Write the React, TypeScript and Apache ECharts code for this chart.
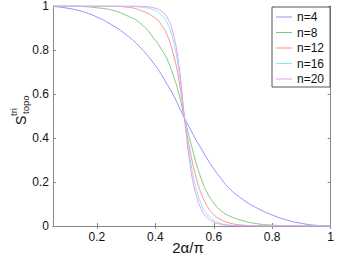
import React, { useEffect, useRef } from "react";
import * as echarts from "echarts";

const X = [0.05, 0.1, 0.15, 0.2, 0.25, 0.3, 0.35, 0.4, 0.42, 0.44, 0.46, 0.48, 0.5, 0.52, 0.54, 0.56, 0.58, 0.6, 0.62, 0.65, 0.7, 0.75, 0.8, 0.85, 0.9, 0.95, 1.0];
const n4 = [0.998, 0.99, 0.975, 0.95, 0.915, 0.87, 0.81, 0.73, 0.69, 0.645, 0.6, 0.545, 0.49, 0.44, 0.39, 0.345, 0.3, 0.26, 0.225, 0.175, 0.12, 0.08, 0.05, 0.027, 0.012, 0.003, 0];
const n8 = [1, 1, 0.998, 0.992, 0.982, 0.958, 0.92, 0.845, 0.805, 0.76, 0.69, 0.605, 0.49, 0.385, 0.285, 0.205, 0.145, 0.105, 0.075, 0.048, 0.024, 0.01, 0.004, 0.001, 0, 0, 0];
const n12 = [1, 1, 1, 1, 0.999, 0.995, 0.98, 0.945, 0.915, 0.87, 0.79, 0.67, 0.49, 0.335, 0.22, 0.138, 0.085, 0.052, 0.032, 0.015, 0.004, 0.001, 0, 0, 0, 0, 0];
const n16 = [1, 1, 1, 1, 1, 0.999, 0.995, 0.98, 0.96, 0.925, 0.85, 0.71, 0.49, 0.3, 0.17, 0.092, 0.05, 0.026, 0.013, 0.005, 0.001, 0, 0, 0, 0, 0, 0];
const n20 = [1, 1, 1, 1, 1, 1, 0.999, 0.99, 0.977, 0.95, 0.88, 0.74, 0.49, 0.27, 0.14, 0.07, 0.035, 0.018, 0.009, 0.003, 0.0005, 0, 0, 0, 0, 0, 0];

const seriesNames = ["n=4", "n=8", "n=12", "n=16", "n=20"];
const seriesValues = [n4, n8, n12, n16, n20];
const colors = ["#9090ff", "#80c880", "#ff9090", "#80eeee", "#f495f4"];
const xTicks = [0.2, 0.4, 0.6, 0.8, 1];
const yTicks = [0, 0.2, 0.4, 0.6, 0.8, 1];

const FONT = "'Liberation Sans', Arial, Helvetica, sans-serif";
const AXIS_COLOR = "#888";

export default function App() {
  const ref = useRef<HTMLDivElement>(null);
  useEffect(() => {
    const chart = echarts.init(ref.current!, null, { renderer: "svg" });
    const fmt = (v: number) => String(Math.round(v * 10) / 10);
    const baseX = {
      type: "value",
      min: 0.05,
      max: 1,
      splitLine: { show: false },
      axisLine: { show: true, lineStyle: { color: AXIS_COLOR, width: 1 } },
      axisTick: { show: true, inside: true, length: 3, customValues: xTicks, lineStyle: { color: AXIS_COLOR } },
    };
    const baseY = {
      type: "value",
      min: 0,
      max: 1,
      interval: 0.2,
      splitLine: { show: false },
      axisLine: { show: true, lineStyle: { color: AXIS_COLOR, width: 1 } },
      axisTick: { show: true, inside: true, length: 3, customValues: yTicks, lineStyle: { color: AXIS_COLOR } },
    };
    chart.setOption({
      animation: false,
      backgroundColor: "#fff",
      textStyle: { fontFamily: FONT },
      grid: { left: 53, right: 6, top: 6, bottom: 31, containLabel: false },
      xAxis: [
        {
          ...baseX,
          position: "bottom",
          axisLabel: { customValues: xTicks, formatter: fmt, color: "#111", fontSize: 12, margin: 5, fontFamily: FONT },
        },
        { ...baseX, position: "top", axisLabel: { show: false } },
      ],
      yAxis: [
        {
          ...baseY,
          position: "left",
          axisLabel: { formatter: fmt, color: "#111", fontSize: 12, margin: 4, fontFamily: FONT },
        },
        { ...baseY, position: "right", axisLabel: { show: false } },
      ],
      legend: {
        orient: "vertical",
        left: 272,
        top: 7,
        padding: [3, 6, 1, 4],
        itemWidth: 16,
        itemHeight: 1,
        itemGap: 1.5,
        icon: "rect",
        backgroundColor: "#fff",
        borderColor: "#555",
        borderWidth: 1,
        borderRadius: 0,
        textStyle: { fontSize: 12, color: "#111", lineHeight: 14, fontFamily: FONT },
        data: seriesNames,
      },
      series: seriesNames.map((name, k) => ({
        name,
        type: "line",
        xAxisIndex: 0,
        yAxisIndex: 0,
        showSymbol: false,
        symbol: "none",
        smooth: 0.5,
        color: colors[k],
        lineStyle: { width: 1, color: colors[k] },
        data: X.map((x, i) => [x, seriesValues[k][i]]),
      })),
      graphic: [
        { type: "text", x: 28, y: 125, rotation: Math.PI / 2, style: { text: "S", fontSize: 14, fontFamily: FONT, fill: "#111", align: "left", verticalAlign: "bottom" } },
        { type: "text", x: 18, y: 116, rotation: Math.PI / 2, style: { text: "tri", fontSize: 9.5, fontFamily: FONT, fill: "#111", align: "left", verticalAlign: "bottom" } },
        { type: "text", x: 30, y: 114, rotation: Math.PI / 2, style: { text: "topo", fontSize: 9.5, fontFamily: FONT, fill: "#111", align: "left", verticalAlign: "bottom" } },
        { type: "text", x: 188, y: 247, style: { text: "2α/π", fontSize: 15, fontFamily: FONT, fill: "#111", align: "center", verticalAlign: "middle" } },
      ],
    });
    return () => chart.dispose();
  }, []);
  return <div ref={ref} style={{ position: "fixed", left: 0, top: 0, width: 337, height: 257, background: "#fff" }} />;
}
